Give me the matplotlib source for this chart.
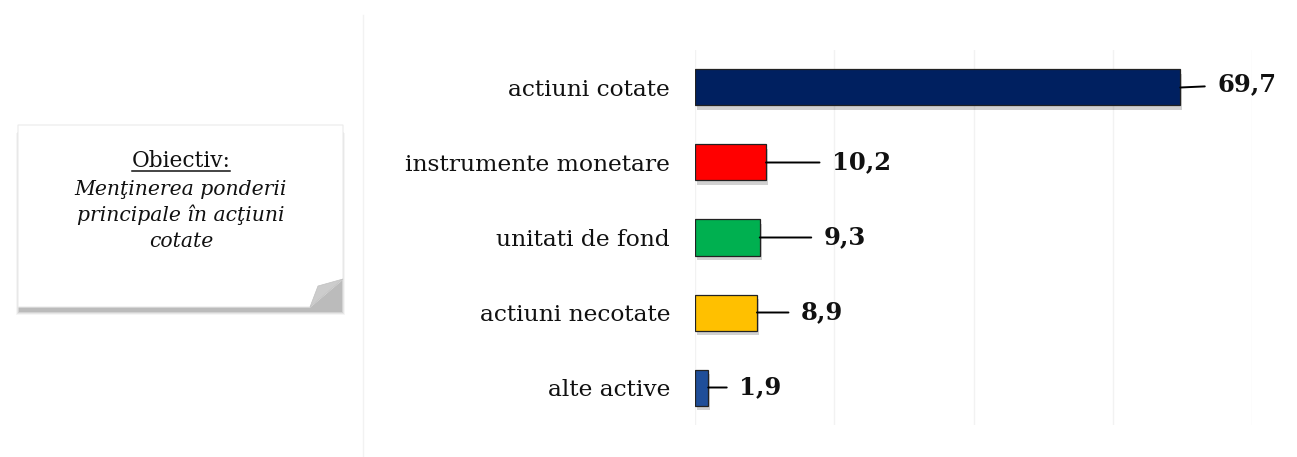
import matplotlib
matplotlib.use("Agg")
import matplotlib.pyplot as plt
from matplotlib import patches, patheffects
from matplotlib.lines import Line2D
from matplotlib.textpath import TextPath
from matplotlib.font_manager import FontProperties

categories = ["actiuni cotate", "instrumente monetare", "unitati de fond", "actiuni necotate", "alte active"]
values = [69.7, 10.2, 9.3, 8.9, 1.9]
value_labels = ["69,7", "10,2", "9,3", "8,9", "1,9"]
colors = ["#002060", "#FF0000", "#00B050", "#FFC000", "#1F4E99"]
label_offsets_px = [37, 66, 64, 44, 31]
label_dy_px = [3, 0, 0, 0, 0]

note_title = "Obiectiv:"
note_lines = ["Menţinerea ponderii", "principale în acţiuni", "cotate"]

W, H = 1297, 457
DPI = 100
fig = plt.figure(figsize=(W / DPI, H / DPI), dpi=DPI)
fig.patch.set_facecolor("white")

serif = ["DejaVu Serif", "Liberation Serif"]


def fit_size(text, target_px, weight="normal", style="normal"):
    fp = FontProperties(family="DejaVu Serif", weight=weight, style=style, size=10)
    w = TextPath((0, 0), text, prop=fp).get_extents().width  # in points at size 10
    return 10 * target_px / (w * DPI / 72)


cat_fs = fit_size("instrumente monetare", 263)
val_fs = fit_size("10,2", 54, weight="bold")
note_fs = fit_size(note_lines[0], 212, style="italic")
title_fs = fit_size(note_title, 95)

# plot area
x0, x1 = 695, 1252
y_top, y_bot = 50, 425
ax = fig.add_axes([x0 / W, 1 - y_bot / H, (x1 - x0) / W, (y_bot - y_top) / H])
ax.set_xlim(0, 80)
n = len(categories)
ax.set_ylim(n - 0.5, -0.5)
ax.set_xticks([0, 20, 40, 60, 80])
ax.set_xticklabels([])
ax.tick_params(axis="x", length=0)
ax.tick_params(axis="y", length=0, pad=18)
ax.set_yticks(range(n))
ax.set_yticklabels(categories, fontsize=cat_fs, family=serif, color="#111111")
ax.grid(axis="x", color="#F2F2F2", linewidth=1)
ax.set_axisbelow(True)
for s in ax.spines.values():
    s.set_visible(False)
ax.patch.set_alpha(0)

shadow = [patheffects.SimplePatchShadow(offset=(1.5, -3), shadow_rgbFace="#000000", alpha=0.18),
          patheffects.Normal()]
bars = ax.barh(range(n), values, height=0.48, color=colors, edgecolor="#222222", linewidth=0.9)
for b in bars:
    b.set_path_effects(shadow)

for i, (v, lab, off, dy) in enumerate(zip(values, value_labels, label_offsets_px, label_dy_px)):
    ax.annotate(lab, xy=(v, i), xytext=(off * 0.72, dy * 0.72), textcoords="offset points",
                ha="left", va="center", fontsize=val_fs, fontweight="bold", family=serif,
                color="#111111",
                arrowprops=dict(arrowstyle="-", color="black", lw=1.4, shrinkA=7, shrinkB=0))

# faint chart-area border line
fig.add_artist(Line2D([363 / W, 363 / W], [0, 1 - 15 / H], color="#F2F2F2", lw=1))


# note box with shadow and curled corner
def fx(x):
    return x / W


def fy(y):
    return 1 - y / H


bx0, bx1, by0, by1 = 18, 343, 125, 307
for k, a in enumerate([0.04, 0.06, 0.08, 0.11]):
    d = 4 - k
    fig.add_artist(patches.Rectangle((fx(bx0 + 2 - d), fy(by1 + 4 + d)), (bx1 - bx0 - 4 + 2 * d) / W,
                                     (by1 - by0) / H, transform=fig.transFigure,
                                     facecolor="black", alpha=a, edgecolor="none"))
box = patches.Polygon([(fx(bx0), fy(by0)), (fx(bx1), fy(by0)), (fx(bx1), fy(279)),
                       (fx(310), fy(by1)), (fx(bx0), fy(by1))], closed=True,
                      transform=fig.transFigure, facecolor="white", edgecolor="#EAEAEA", lw=0.8)
fig.add_artist(box)
curl = patches.Polygon([(fx(bx1), fy(279)), (fx(310), fy(by1)), (fx(318), fy(286))], closed=True,
                       transform=fig.transFigure, facecolor="#CCCCCC", edgecolor="#C0C0C0", lw=0.5)
fig.add_artist(curl)

cx = fx(181)
t = fig.text(cx, fy(167), note_title, ha="center", va="baseline", fontsize=title_fs, family=serif,
             color="#111111")
fig.canvas.draw()
bb = t.get_window_extent()
fig.add_artist(Line2D([bb.x0 / W, bb.x1 / W], [fy(171), fy(171)], color="#111111", lw=1.1))
for j, line in enumerate(note_lines):
    fig.text(cx, fy(195 + j * 26), line, ha="center", va="baseline", fontsize=note_fs, family=serif,
             style="italic", color="#111111")

fig.savefig("out.png", dpi=DPI, facecolor="white")
